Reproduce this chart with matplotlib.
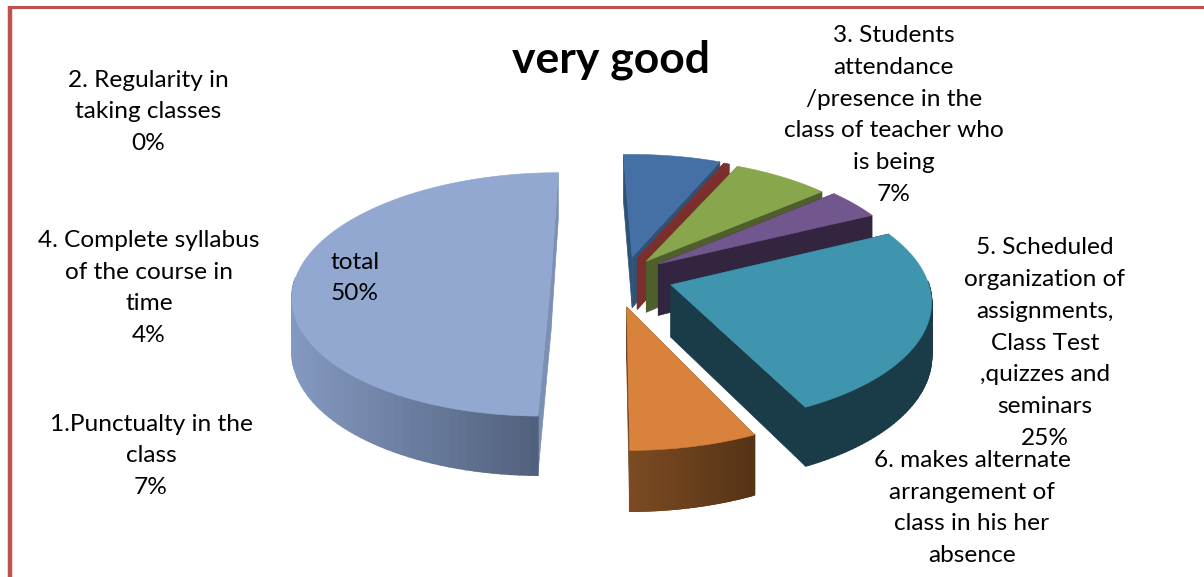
import numpy as np
import matplotlib
matplotlib.use("Agg")
import matplotlib.pyplot as plt
from matplotlib.colors import to_rgb

plt.rcParams['font.family'] = ['Lato', 'DejaVu Sans']

# slices, clockwise from the top
names = ["1.Punctualty in the\nclass", "2. Regularity in\ntaking classes",
         "3. Students\nattendance\n/presence in the\nclass of teacher who\nis being",
         "4. Complete syllabus\nof the course in\ntime",
         "5. Scheduled\norganization of\nassignments,\nClass Test\n,quizzes and\nseminars",
         "6. makes alternate\narrangement of\nclass in his her\nabsence", "total"]
values = [7, 0.4, 7, 4, 25, 7, 50]
explode = [0.2, 0.2, 0.2, 0.2, 0.2, 0.2, 0.27]

top_colors = ['#4570a6', '#7e302e', '#88a64c', '#72568e', '#3f95ad', '#d9823b', '#92a8d0']
side_colors = ['#2d5379', '#7a2f2d', '#4e5f2b', '#33253f', '#1a3c49', '#6b4020', '#7c90b5']
wall_left = ['#2d5379', '#7a2f2d', '#4e5f2b', '#33253f', '#1a3c49', '#7d4c22', '#8499c0']
wall_right = ['#2d5379', '#7a2f2d', '#4e5f2b', '#33253f', '#1a3c49', '#553316', '#4f5e7a']

label_pos = [(151, 456), (148, 112), (894, 115), (149, 288), (1045, 343), (972, 508), (355, 278)]
show_pct = [True, True, True, True, True, False, True]

# pie geometry, pixels
cx, cy = 620, 280
rx, ry = 256, 120
persp = 0.12
depth = 52
start = 0

# small per slice corrections to the layout
turn = [-2, -2, -2, -2, -2, -1, 0]
nudge_x = [3, -3, -4, -4, 2, -5, 0]
nudge_y = [0, 0, 0, -3, -3, 3, 0]


def project(u, v, down=0):
    s = 1 / (1 - persp * v)
    return cx + rx * u * s, cy + ry * v * s + down * s


fig = plt.figure(figsize=(12.04, 5.77), dpi=100)
ax = fig.add_axes([0, 0, 1, 1])
ax.set_xlim(0, 1204)
ax.set_ylim(577, 0)
ax.axis('off')

frac = np.array(values) / sum(values) * 360
ends = start + np.cumsum(frac)
starts = ends - frac


def draw_slice(i):
    t = np.radians(np.linspace(starts[i], ends[i], 100) + turn[i])
    mid = np.radians((starts[i] + ends[i]) / 2 + turn[i])
    ou = explode[i] * np.sin(mid)
    ov = -explode[i] * np.cos(mid)
    u = ou + np.sin(t)
    v = ov - np.cos(t)
    dx, dy = nudge_x[i], nudge_y[i]

    # radial walls
    for k in [0, -1]:
        xa, ya = project(ou, ov)
        xb, yb = project(u[k], v[k])
        xc, yc = project(u[k], v[k], depth)
        xd, yd = project(ou, ov, depth)
        ax.fill(np.array([xa, xb, xc, xd]) + dx, np.array([ya, yb, yc, yd]) + dy,
                color=side_colors[i], lw=0.5, zorder=i + 2)

    # outer wall, only the part turned to the viewer
    lo, ro = np.array(to_rgb(wall_left[i])), np.array(to_rgb(wall_right[i]))
    for k in range(len(t) - 1):
        if -np.cos(t[k]) < -0.02 and -np.cos(t[k + 1]) < -0.02:
            continue
        x0, y0 = project(u[k], v[k])
        x1, y1 = project(u[k + 1], v[k + 1])
        x2, y2 = project(u[k + 1], v[k + 1], depth)
        x3, y3 = project(u[k], v[k], depth)
        xs = [x0, x1, x2, x3]
        if i == 6:
            f = np.clip((min(xs) - 292) / (540 - 292), 0, 1)
        else:
            f = np.clip((min(xs) - 628) / (760 - 628), 0, 1)
        ax.fill(np.array(xs) + dx, np.array([y0, y1, y2, y3]) + dy,
                color=lo + (ro - lo) * f, lw=1.2, zorder=i + 2)

    # top face
    x, y = project(u, v)
    xa, ya = project(ou, ov)
    ax.fill(np.r_[xa, x] + dx, np.r_[ya, y] + dy, color=top_colors[i], lw=0.4, zorder=i + 2.5)


draw_order = [6, 0, 1, 2, 3, 4, 5]
for i in draw_order:
    draw_slice(i)

for name, val, pos, pct in zip(names, values, label_pos, show_pct):
    txt = f"{name}\n{round(val)}%" if pct else name
    ax.text(pos[0], pos[1], txt, ha='center', va='center', fontsize=17.6,
            linespacing=1.64, color='black', zorder=20)

ax.text(611, 60, "very good", ha='center', va='center', fontsize=32, fontweight='bold', zorder=20)

# frame of the slide, top and left only
ax.plot([9, 1204], [7, 7], color='#c0504d', lw=2.2, solid_capstyle='butt', zorder=21)
ax.plot([10, 10], [6, 577], color='#c0504d', lw=3.2, solid_capstyle='butt', zorder=21)

fig.savefig('out.png', dpi=100)
